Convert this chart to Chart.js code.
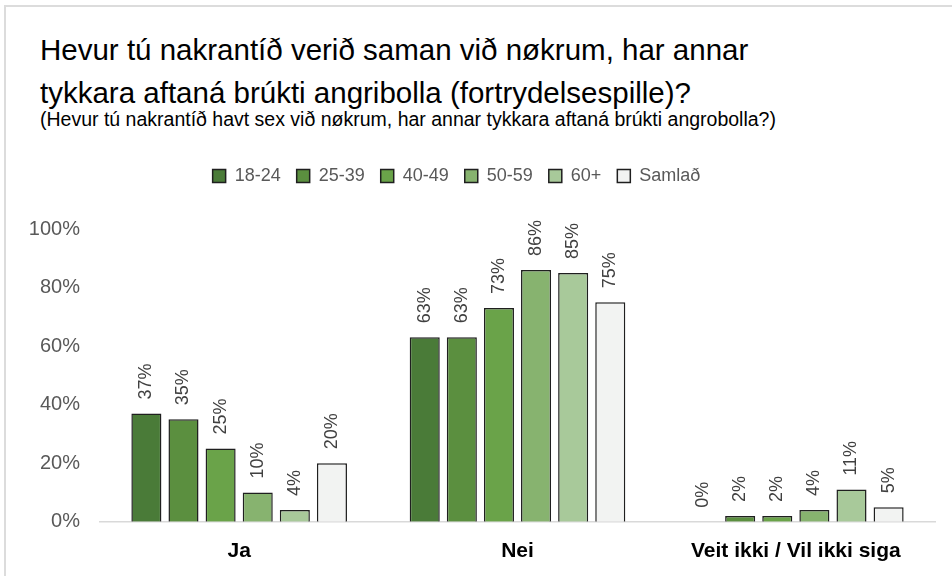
<!DOCTYPE html>
<html>
<head>
<meta charset="utf-8">
<script src="https://cdn.jsdelivr.net/npm/chart.js@4"></script>
<style>
    html, body { margin: 0; padding: 0; background: #fff; }
    body { width: 952px; height: 576px; position: relative; overflow: hidden; font-family: "Liberation Sans", Arial, sans-serif; }
    .frame { position: absolute; left: 4px; top: 5px; width: 960px; height: 590px; border: 2px solid #dcdcdc; box-sizing: border-box; }
    .title { position: absolute; left: 40px; top: 28px; font-size: 29.5px; line-height: 43px; color: #000; white-space: nowrap; }
    .subtitle { position: absolute; left: 40px; top: 107px; font-size: 19.5px; line-height: 24px; color: #000; white-space: nowrap; }
    .chart-box { position: absolute; left: 0; top: 140px; width: 952px; height: 436px; }
</style>
</head>
<body>
<div class="frame"></div>
<div class="title">Hevur tú nakrantíð verið saman við nøkrum, har annar<br>tykkara aftaná brúkti angribolla (fortrydelsespille)?</div>
<div class="subtitle">(Hevur tú nakrantíð havt sex við nøkrum, har annar tykkara aftaná brúkti angrobolla?)</div>
<div class="chart-box"><canvas id="chart"></canvas></div>
<script>
// Answer categories and age groups
const categories = ['Ja', 'Nei', 'Veit ikki / Vil ikki siga'];
const groups = ['18-24', '25-39', '40-49', '50-59', '60+', 'Samlað'];

// Percentages per age group, in category order
const age18to24 = [37, 63, 0];
const age25to39 = [35, 63, 2];
const age40to49 = [25, 73, 2];
const age50to59 = [10, 86, 4];
const age60plus = [4, 85, 11];
const total = [20, 75, 5];

const yTicks = [0, 20, 40, 60, 80, 100];

const seriesValues = [age18to24, age25to39, age40to49, age50to59, age60plus, total];
const colors = ['#4a7b38', '#5b8f3f', '#6aa349', '#87b36f', '#a8c99a', '#f2f3f2'];

const fontFamily = '"Liberation Sans", Arial, sans-serif';

// Rotated value labels above each bar
const valueLabels = {
    id: 'valueLabels',
    afterDatasetsDraw(chart) {
        const ctx = chart.ctx;
        ctx.save();
        ctx.font = '18px ' + fontFamily;
        ctx.fillStyle = '#404040';
        ctx.textAlign = 'left';
        ctx.textBaseline = 'middle';
        chart.data.datasets.forEach(function(ds, i) {
            const meta = chart.getDatasetMeta(i);
            meta.data.forEach(function(bar, j) {
                ctx.save();
                ctx.translate(bar.x, bar.y - 14);
                ctx.rotate(-Math.PI / 2);
                ctx.fillText(ds.data[j] + '%', 0, 0);
                ctx.restore();
            });
        });
        ctx.restore();
    }
};

// Extra space under the legend and a small shift to the left
const legendTweak = {
    id: 'legendTweak',
    beforeInit(chart) {
        const origFit = chart.legend.fit;
        chart.legend.fit = function() {
            origFit.bind(chart.legend)();
            this.height += 34;
        };
    },
    afterLayout(chart) {
        chart.legend.left -= 16;
        chart.legend.right -= 16;
    }
};

new Chart(document.getElementById('chart'), {
    type: 'bar',
    data: {
        labels: categories,
        datasets: groups.map(function(name, i) {
            return {
                label: name,
                data: seriesValues[i],
                backgroundColor: colors[i],
                borderColor: '#1f1f1f',
                borderWidth: 1.5,
                borderSkipped: 'bottom',
                barPercentage: 0.81,
                categoryPercentage: 0.8
            };
        })
    },
    options: {
        responsive: true,
        maintainAspectRatio: false,
        animation: false,
        layout: { padding: { left: 10, right: 17, top: 11, bottom: 3 } },
        scales: {
            x: {
                grid: { display: false },
                border: { display: true, color: '#d9d9d9', width: 1.5 },
                ticks: {
                    color: '#000',
                    padding: 9,
                    font: { family: fontFamily, size: 21, weight: 'bold' }
                }
            },
            y: {
                min: 0,
                max: 100,
                afterFit: function(scale) { scale.width = 90; },
                afterBuildTicks: function(scale) {
                    scale.ticks = yTicks.map(function(v) { return { value: v }; });
                },
                grid: { display: false },
                border: { display: false },
                ticks: {
                    color: '#595959',
                    padding: 12,
                    font: { family: fontFamily, size: 20 },
                    callback: function(value) { return value + '%'; }
                }
            }
        },
        plugins: {
            legend: {
                position: 'top',
                labels: {
                    color: '#595959',
                    boxWidth: 13,
                    boxHeight: 13,
                    padding: 16,
                    font: { family: fontFamily, size: 18 }
                }
            },
            tooltip: { enabled: false }
        }
    },
    plugins: [valueLabels, legendTweak]
});
</script>
</body>
</html>
